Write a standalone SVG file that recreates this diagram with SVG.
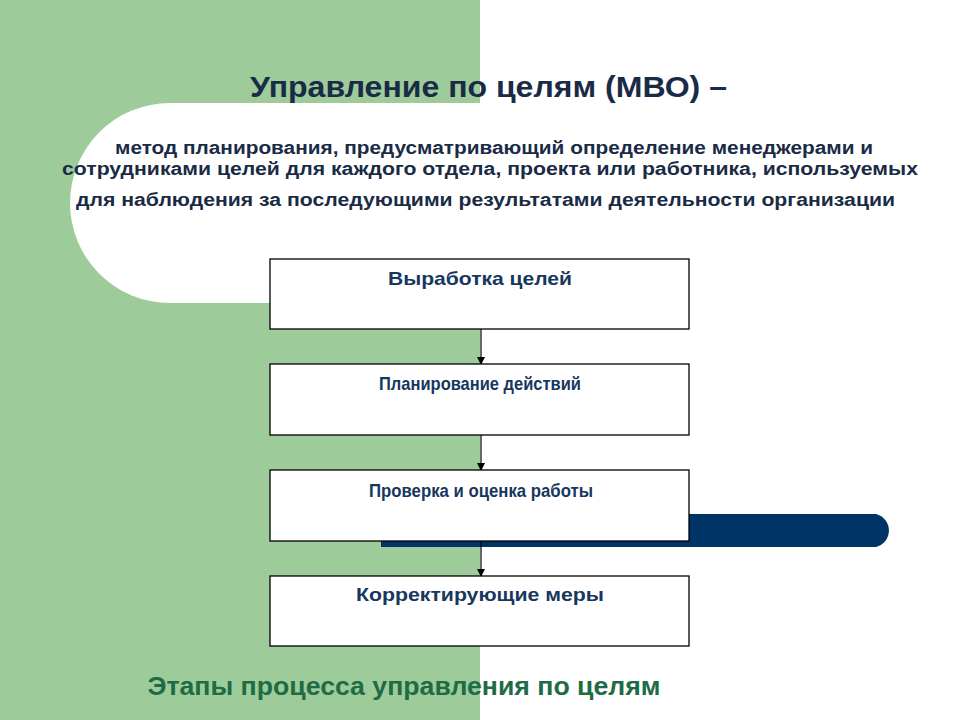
<svg xmlns="http://www.w3.org/2000/svg" width="960" height="720" viewBox="0 0 960 720">
<defs>
<style>
.box{fill:#fff;stroke:#000;stroke-width:1.3}
.lbl{font-family:"Liberation Sans",Arial,sans-serif;font-weight:bold;font-size:19px;fill:#17375e;text-anchor:middle}
.c{stroke:#000;stroke-width:1.2;fill:none;marker-end:url(#ah)}
</style>
<marker id="ah" markerWidth="8" markerHeight="8" refX="7" refY="4" orient="auto" markerUnits="userSpaceOnUse"><path d="M0,0 L8,4 L0,8 Z" fill="#000"/></marker>
</defs>
<rect width="960" height="720" fill="#fff"/>
<rect x="0" y="0" width="480" height="720" fill="#9dcc9a"/>
<path d="M170,103 H480 V303 H170 A100,100 0 0 1 170,103 Z" fill="#fff"/>
<path d="M381,514 H876 A17,17 0 0 1 876,547 H381 Z" fill="#003366"/>
<g font-family="Liberation Sans,Arial,sans-serif" font-weight="bold" fill="#1a2b45" lengthAdjust="spacingAndGlyphs">
<text x="250" y="97" font-size="29" textLength="477" lengthAdjust="spacingAndGlyphs">Управление по целям (МВО) –</text>
<text x="115" y="154" font-size="18" textLength="758" lengthAdjust="spacingAndGlyphs">метод планирования, предусматривающий определение менеджерами и</text>
<text x="62" y="175" font-size="18" textLength="856" lengthAdjust="spacingAndGlyphs">сотрудниками целей для каждого отдела, проекта или работника, используемых</text>
<text x="76" y="206" font-size="18" textLength="819" lengthAdjust="spacingAndGlyphs">для наблюдения за последующими результатами деятельности организации</text>
</g>
<g id="connectors">
<line class="c" x1="481" y1="329" x2="481" y2="364"/>
<line class="c" x1="481" y1="435" x2="481" y2="470"/>
<line class="c" x1="481" y1="541" x2="481" y2="576"/>
</g>
<g id="n1"><rect class="box" x="270" y="259" width="419" height="70"/><text class="lbl" x="480" y="285" textLength="184" lengthAdjust="spacingAndGlyphs">Выработка целей</text></g>
<g id="n2"><rect class="box" x="270" y="364" width="419" height="71"/><text class="lbl" x="480" y="390" textLength="202" lengthAdjust="spacingAndGlyphs">Планирование действий</text></g>
<g id="n3"><rect class="box" x="270" y="470" width="419" height="71"/><text class="lbl" x="481" y="497" textLength="224" lengthAdjust="spacingAndGlyphs">Проверка и оценка работы</text></g>
<g id="n4"><rect class="box" x="270" y="576" width="419" height="70"/><text class="lbl" x="480" y="601" textLength="248" lengthAdjust="spacingAndGlyphs">Корректирующие меры</text></g>
<text x="404" y="695" font-family="Liberation Sans,Arial,sans-serif" font-weight="bold" font-size="25" fill="#1e6b45" text-anchor="middle" textLength="513" lengthAdjust="spacingAndGlyphs">Этапы процесса управления по целям</text>
</svg>
